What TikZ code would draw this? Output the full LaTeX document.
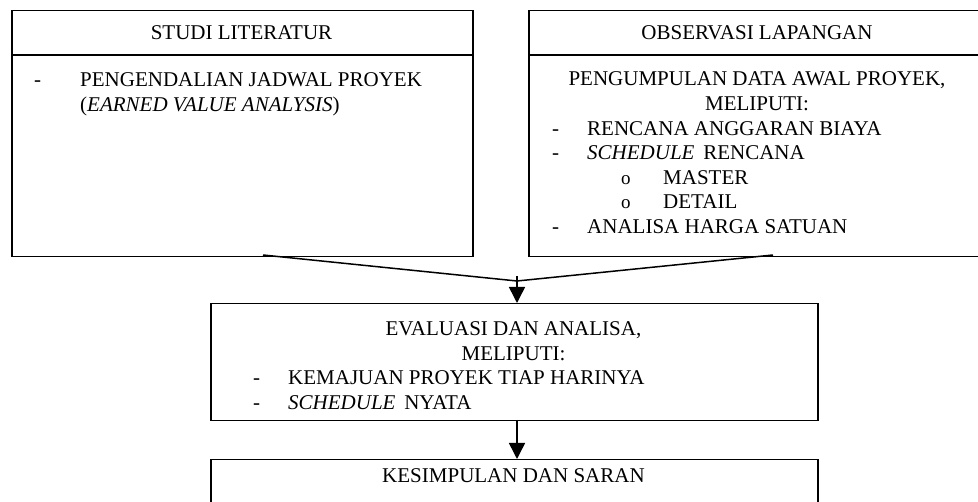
\documentclass[tikz,border=0pt]{standalone}
\usepackage{fontspec}
\setmainfont{Liberation Serif}
\usetikzlibrary{arrows.meta}
\begin{document}
\begin{tikzpicture}[x=1pt,y=-1pt,
  box/.style={draw,line width=1.5pt,inner sep=0pt,anchor=north west},
  txt/.style={inner sep=0pt,font=\fontsize{21}{24.5}\selectfont},
  bul/.style={inner sep=0pt,font=\fontsize{19}{24.5}\selectfont},
  ln/.style={line width=1.5pt},
  arr/.style={line width=1.5pt,-{Triangle[length=16pt,width=16pt]}}]
\useasboundingbox (0,0) rectangle (978,502);
\clip (0,0) rectangle (978,502);
% boxes
\node[box,minimum width=461pt,minimum height=246pt] (lit) at (11,10) {};
\node[box,minimum width=458pt,minimum height=246pt] (obs) at (528,10) {};
\node[box,minimum width=607pt,minimum height=117pt] (eva) at (210,303) {};
\node[box,minimum width=607pt,minimum height=70pt] (kes) at (210,459) {};
% header dividers
\draw[ln] (lit.west |- 0,55) -- (lit.east |- 0,55);
\draw[ln] (obs.west |- 0,55) -- (obs.east |- 0,55);
% left box text
\node[txt,anchor=base] (h1) at (241.5,40) {STUDI LITERATUR};
\node[txt,anchor=base west] (d1) at (34,87) {-};
\node[txt,anchor=base west] (l1) at (80,87) {PENGENDALIAN JADWAL PROYEK};
\node[txt,anchor=base west] (l2) at (80,111.5) {(\textit{EARNED VALUE ANALYSIS})};
% right box text
\node[txt,anchor=base] (h2) at (757,40) {OBSERVASI LAPANGAN};
\node[txt,anchor=base] (r1) at (757,86) {PENGUMPULAN DATA AWAL PROYEK,};
\node[txt,anchor=base] (r2) at (757,110.5) {MELIPUTI:};
\node[txt,anchor=base west] (rd1) at (552,135.5) {-};
\node[txt,anchor=base west] (r3) at (587,135.5) {RENCANA ANGGARAN BIAYA};
\node[txt,anchor=base west] (rd2) at (552,160) {-};
\node[txt,anchor=base west] (r4) at (587,160) {\textit{SCHEDULE}\, RENCANA};
\node[bul,anchor=base west] (ro1) at (621,184.5) {o};
\node[txt,anchor=base west] (r5) at (663,184.5) {MASTER};
\node[bul,anchor=base west] (ro2) at (621,209) {o};
\node[txt,anchor=base west] (r6) at (663,209) {DETAIL};
\node[txt,anchor=base west] (rd3) at (552,233.5) {-};
\node[txt,anchor=base west] (r7) at (587,233.5) {ANALISA HARGA SATUAN};
% middle box text
\node[txt,anchor=base] (m1) at (513.5,336) {EVALUASI DAN ANALISA,};
\node[txt,anchor=base] (m2) at (513.5,360.5) {MELIPUTI:};
\node[txt,anchor=base west] (md1) at (253,385) {-};
\node[txt,anchor=base west] (m3) at (288,385) {KEMAJUAN PROYEK TIAP HARINYA};
\node[txt,anchor=base west] (md2) at (253,409.5) {-};
\node[txt,anchor=base west] (m4) at (288,409.5) {\textit{SCHEDULE}\, NYATA};
% bottom box text
\node[txt,anchor=base] (k1) at (513.5,483) {KESIMPULAN DAN SARAN};
% connectors
\coordinate (j) at (517,281);
\coordinate (litout) at (263,255);
\coordinate (obsout) at (773,255);
\coordinate (jtop) at (517,276);
\draw[ln] (litout) -- (j);
\draw[ln] (obsout) -- (j);
\draw[arr] (jtop) -- (j |- eva.north);
\draw[arr] (j |- eva.south) -- (j |- kes.north);
\end{tikzpicture}
\end{document}
